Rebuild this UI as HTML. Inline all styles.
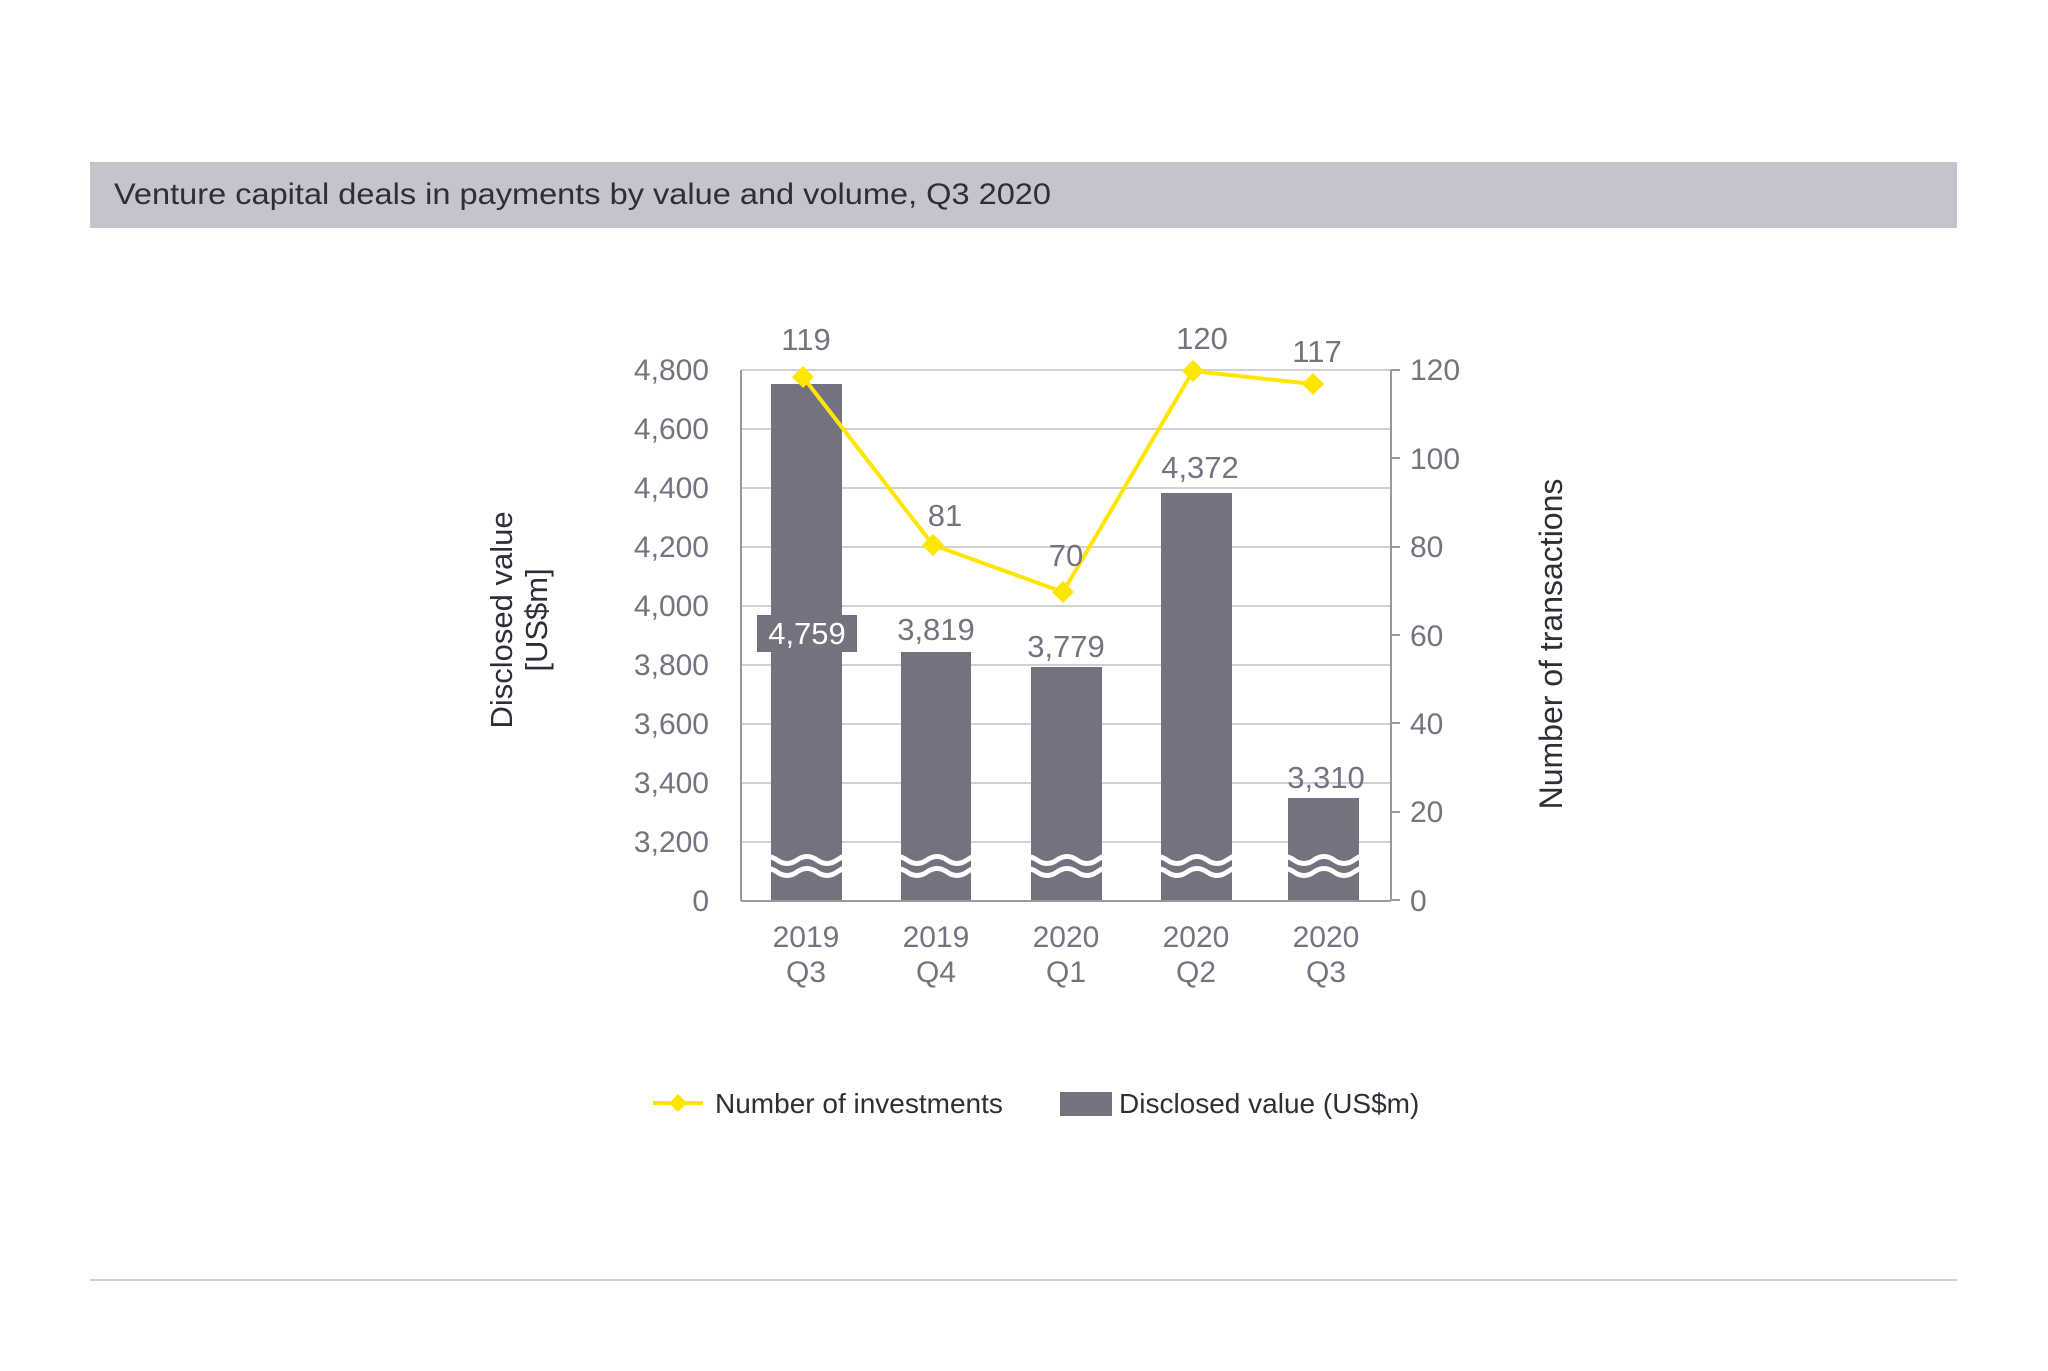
<!DOCTYPE html>
<html><head><meta charset="utf-8"><style>
html,body{margin:0;padding:0;background:#fff;}
svg{display:block;font-family:"Liberation Sans",sans-serif;}
</style></head><body>
<svg width="2048" height="1371" viewBox="0 0 2048 1371" xmlns="http://www.w3.org/2000/svg">
<defs>
<path id="w" d="M0 6 q10 -7 20 0 t20 0 t20 0 t20 0 t20 -6"/>
</defs>
<rect x="90" y="162" width="1867" height="66" fill="#c4c4cd"/>
<text x="114" y="204" font-size="30" fill="#2e2e38" textLength="937" lengthAdjust="spacingAndGlyphs">Venture capital deals in payments by value and volume, Q3 2020</text>
<g stroke="#d0d0d5" stroke-width="2">
<line x1="741" x2="1391" y1="370" y2="370"/><line x1="741" x2="1391" y1="429" y2="429"/>
<line x1="741" x2="1391" y1="488" y2="488"/><line x1="741" x2="1391" y1="547" y2="547"/>
<line x1="741" x2="1391" y1="606" y2="606"/><line x1="741" x2="1391" y1="665" y2="665"/>
<line x1="741" x2="1391" y1="724" y2="724"/><line x1="741" x2="1391" y1="783" y2="783"/>
<line x1="741" x2="1391" y1="842" y2="842"/>
</g>
<g stroke="#999" stroke-width="2">
<line x1="741" x2="741" y1="370" y2="901"/><line x1="1391" x2="1391" y1="370" y2="901"/>
<line x1="741" x2="1391" y1="901" y2="901"/>
<line x1="1391" x2="1400" y1="370" y2="370"/><line x1="1391" x2="1400" y1="458" y2="458"/>
<line x1="1391" x2="1400" y1="547" y2="547"/><line x1="1391" x2="1400" y1="635" y2="635"/>
<line x1="1391" x2="1400" y1="723" y2="723"/><line x1="1391" x2="1400" y1="812" y2="812"/>
<line x1="1391" x2="1400" y1="900" y2="900"/>
</g>
<g fill="#737380">
<rect x="771" y="384" width="71" height="516"/>
<rect x="901" y="652" width="70" height="248"/>
<rect x="1031" y="667" width="71" height="233"/>
<rect x="1161" y="493" width="71" height="407"/>
<rect x="1288" y="798" width="71" height="102"/>
</g>
<g fill="none" stroke="#fff" stroke-width="5">
<use href="#w" x="757" y="854"/><use href="#w" x="757" y="866"/>
<use href="#w" x="887" y="854"/><use href="#w" x="887" y="866"/>
<use href="#w" x="1017" y="854"/><use href="#w" x="1017" y="866"/>
<use href="#w" x="1147" y="854"/><use href="#w" x="1147" y="866"/>
<use href="#w" x="1274" y="854"/><use href="#w" x="1274" y="866"/>
</g>
<rect x="757" y="615" width="100" height="37" fill="#737380"/>
<polyline points="803,377 933,545 1063,592 1193,371 1313,384" fill="none" stroke="#ffe600" stroke-width="4"/>
<g fill="#ffe600">
<path d="M803 366 l11 11 l-11 11 l-11 -11z"/><path d="M933 534 l11 11 l-11 11 l-11 -11z"/>
<path d="M1063 581 l11 11 l-11 11 l-11 -11z"/><path d="M1193 360 l11 11 l-11 11 l-11 -11z"/>
<path d="M1313 373 l11 11 l-11 11 l-11 -11z"/>
</g>
<g font-size="31" fill="#747480" text-anchor="middle">
<text x="806" y="350">119</text><text x="945" y="526">81</text><text x="1066" y="566">70</text>
<text x="1202" y="349">120</text><text x="1317" y="362">117</text>
<text x="936" y="640">3,819</text><text x="1066" y="657">3,779</text>
<text x="1200" y="478">4,372</text><text x="1326" y="788">3,310</text>
<text x="807" y="644" fill="#fff">4,759</text>
</g>
<g font-size="30" fill="#747480" text-anchor="end">
<text x="709" y="380">4,800</text><text x="709" y="439">4,600</text><text x="709" y="498">4,400</text>
<text x="709" y="557">4,200</text><text x="709" y="616">4,000</text><text x="709" y="675">3,800</text>
<text x="709" y="734">3,600</text><text x="709" y="793">3,400</text><text x="709" y="852">3,200</text>
<text x="709" y="911">0</text>
</g>
<g font-size="30" fill="#747480">
<text x="1410" y="380">120</text><text x="1410" y="469">100</text><text x="1410" y="557">80</text>
<text x="1410" y="646">60</text><text x="1410" y="734">40</text><text x="1410" y="822">20</text>
<text x="1410" y="911">0</text>
</g>
<g font-size="30" fill="#747480" text-anchor="middle">
<text x="806" y="947">2019</text><text x="806" y="982">Q3</text>
<text x="936" y="947">2019</text><text x="936" y="982">Q4</text>
<text x="1066" y="947">2020</text><text x="1066" y="982">Q1</text>
<text x="1196" y="947">2020</text><text x="1196" y="982">Q2</text>
<text x="1326" y="947">2020</text><text x="1326" y="982">Q3</text>
</g>
<g font-size="31" fill="#2e2e38" text-anchor="middle">
<text transform="translate(512,620) rotate(-90)">Disclosed value</text>
<text transform="translate(547,620) rotate(-90)">[US$m]</text>
<text transform="translate(1562,644) rotate(-90)" font-size="32">Number of transactions</text>
</g>
<line x1="653" x2="703" y1="1103" y2="1103" stroke="#ffe600" stroke-width="4"/>
<path d="M678 1094 l9 9 l-9 9 l-9 -9z" fill="#ffe600"/>
<text x="715" y="1113" font-size="28" fill="#2e2e38">Number of investments</text>
<rect x="1060" y="1092" width="52" height="24" fill="#737380"/>
<text x="1119" y="1113" font-size="28" fill="#2e2e38">Disclosed value (US$m)</text>
<line x1="90" x2="1957" y1="1280" y2="1280" stroke="#d0d0d5" stroke-width="2"/>
</svg>
</body></html>
